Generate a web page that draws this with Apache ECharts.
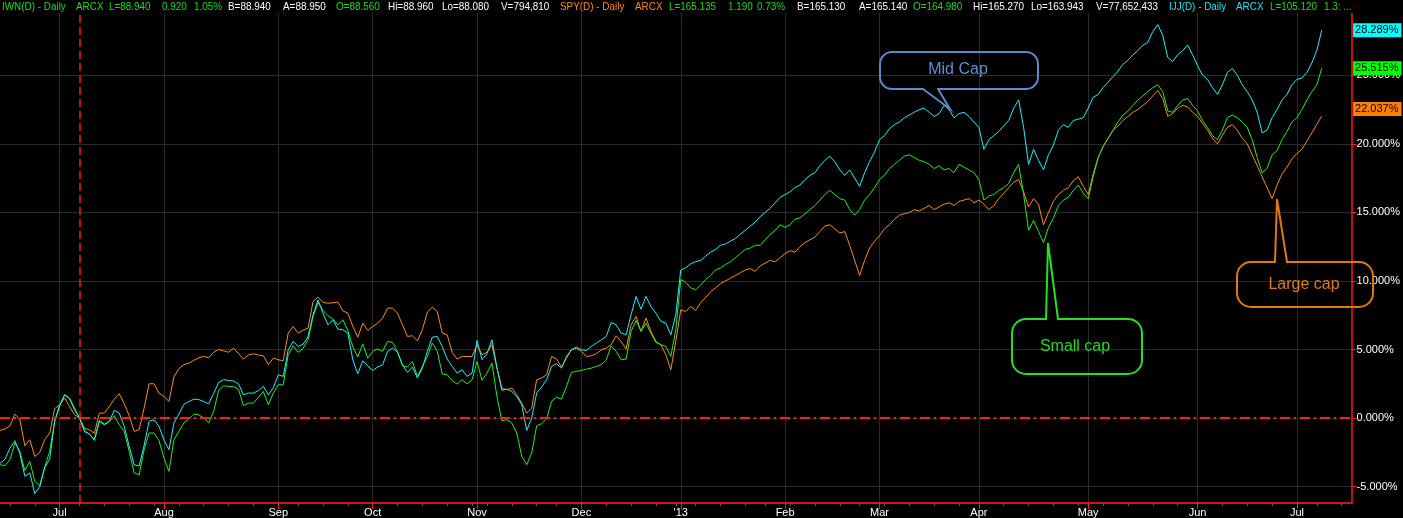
<!DOCTYPE html>
<html><head><meta charset="utf-8">
<script src="https://cdn.jsdelivr.net/npm/echarts@6/dist/echarts.min.js"></script>
<style>html,body{margin:0;padding:0;background:#000;}#c{width:1403px;height:518px;}</style>
</head><body><div id="c"></div>
<script>
// ---- data ----
const startDate = '2012-06-14';
const endDate = '2013-07-17';
const baseDate = '2012-07-09';
const holidays = ['2012-07-04','2012-09-03','2012-10-29','2012-10-30','2012-11-22','2012-12-25','2013-01-01','2013-01-21','2013-02-18','2013-03-29','2013-05-27','2013-07-04'];
const monthLabels = ['', "'13", 'Feb', 'Mar', 'Apr', 'May', 'Jun', 'Jul', 'Aug', 'Sep', 'Oct', 'Nov', 'Dec'];

const ijj = [
-3.3,-3.0,-2.2,-1.65,-2.6,-4.25,-4.0,-5.5,-5.0,-3.6,-3.0,-0.2,0.95,1.7,1.4,0.6,0.0,-1.0,-1.15,-1.63,-0.24,-0.5,-0.24,0.56,0.36,-0.6,-2.07,-3.4,-3.5,-2.0,-0.24,-0.12,-0.61,-1.6,-2.31,-0.36,0.3,1.0,1.2,1.38,1.35,1.2,1.04,1.8,2.6,2.8,2.75,2.7,2.5,1.7,1.82,
1.82,2.0,2.31,1.7,2.19,3.16,3.04,4.98,5.59,5.22,5.39,5.95,7.53,8.62,7.65,6.8,7.17,6.49,6.44,6.2,4.25,3.23,4.18,3.81,3.47,3.72,3.89,4.86,5.1,4.79,3.89,3.33,3.72,2.92,3.64,4.86,5.9,5.95,5.22,4.3,3.77,3.28,3.52,3.04,3.28,5.66,4.25,4.69,5.71,3.72,2.02,2.11,1.94,1.58,0.97,-0.9,0.0,1.82,2.26,2.79,3.77,3.96,3.64,4.49,4.98,5.17,4.98,4.93,5.22,5.47,5.71,5.95,6.97,6.8,6.2,6.07,7.53,8.87,7.94,8.87,8.14,7.65,7.05,6.92,6.07,7.53,
10.8,10.96,11.25,11.4,11.5,11.8,12.1,12.3,12.6,12.7,
12.9,13.1,13.4,13.7,14.0,14.3,14.7,15.0,15.3,15.7,
16.1,16.3,16.5,16.8,17.0,17.4,17.7,17.9,18.4,18.8,
19.1,18.7,18.1,17.7,18.1,17.5,16.9,17.9,18.7,19.4,
20.3,20.6,21.1,21.4,21.6,21.9,22.1,22.3,22.5,22.6,
22.3,22.0,22.2,22.8,22.5,21.9,22.2,22.3,22.0,21.6,
21.2,19.6,20.3,20.6,20.9,21.3,21.7,22.6,23.2,21.2,
18.5,19.6,18.8,18.1,19.2,19.9,21.0,21.4,21.2,21.7,
21.8,21.9,22.6,23.4,23.6,24.1,24.5,24.9,25.3,25.8,
26.1,26.5,26.8,27.2,27.4,28.2,28.7,27.9,26.3,26.0,
26.5,26.8,27.2,26.5,25.7,25.0,24.7,24.1,23.6,24.3,
25.2,25.5,25.0,24.3,23.8,23.2,22.3,20.8,21.0,21.9,
22.5,23.2,23.6,24.3,24.7,24.8,25.2,25.9,26.8,28.289
];

const iwn = [
-3.4,-3.48,-3.04,-1.82,-2.43,-3.82,-3.16,-4.62,-4.94,-3.57,-2.43,-0.24,0.85,1.7,1.46,0.73,0,-0.85,-1.22,-1.53,-0.17,-0.44,-0.24,0.17,-0.49,-0.97,-2.43,-4.0,-4.13,-2.31,-1.09,-1.09,-1.65,-2.92,-3.89,-1.58,-0.97,-0.36,-0.07,0.29,0.24,0,-0.36,0.48,2.01,2.35,2.31,2.31,2.1,0.9,1.09,
1.09,1.5,1.94,0.97,1.82,2.43,2.43,4.62,5.27,4.79,5.1,5.71,7.41,8.43,7.85,7.46,7.22,6.8,7.17,6.39,5.22,4.45,5.42,4.37,4.86,5.03,4.86,5.59,5.52,4.86,3.81,3.72,4.13,3.04,3.77,4.49,5.47,4.86,3.21,3.16,2.72,2.48,2.79,2.5,2.79,4.13,2.75,3.28,4.01,1.58,-0.19,-0.12,-0.36,-1.09,-2.79,-3.4,-2.55,-0.56,-0.41,-0.07,1.21,1.53,1.38,2.31,3.33,3.4,3.47,3.57,3.64,3.77,3.89,4.25,5.27,4.86,4.25,4.3,6.32,7.12,6.32,6.92,6.2,5.52,5.35,5.22,4.49,6.44,
10.1,9.9,9.5,9.35,9.7,10.1,10.4,10.8,10.95,11.2,
11.4,11.7,12.0,12.3,12.4,12.6,12.6,13.0,13.4,13.7,
14.1,13.9,14.1,14.5,14.6,14.9,15.2,15.5,15.9,16.3,
16.6,16.3,16.0,15.9,15.2,14.8,15.2,15.9,16.3,16.8,
17.4,17.7,18.2,18.5,18.8,19.1,19.2,19.0,18.8,18.7,
18.5,18.2,18.4,18.1,18.2,17.9,18.5,18.3,18.1,17.9,
17.4,15.9,16.2,16.3,16.6,16.8,17.1,17.9,18.5,16.3,
13.7,14.4,13.6,12.8,13.9,14.6,15.5,15.9,16.1,16.6,
17.0,16.4,16.0,17.6,19.0,19.8,20.4,21.0,21.6,22.1,
22.4,22.8,23.2,23.5,23.8,24.1,24.3,23.8,22.4,22.3,
22.8,23.2,23.3,22.8,22.4,21.7,21.2,20.6,20.3,21.0,
21.9,22.1,21.9,21.6,21.2,20.3,19.0,17.9,18.2,19.2,
19.5,20.3,20.9,21.6,21.9,22.5,23.2,23.8,24.3,25.515
];

const spy = [
-0.9,-0.8,-0.56,0.29,-0.12,-2.02,-1.58,-2.8,-2.5,-1.58,-1.1,0.68,0.97,1.46,0.85,0.24,0,-0.75,-0.85,-1.1,0.36,0.36,0.85,1.38,1.77,1.04,0.17,-0.97,-0.85,0.73,2.5,2.5,1.82,1.58,1.21,3.0,3.6,3.9,4.0,4.2,4.4,4.5,4.4,4.8,5.0,4.9,4.8,5.1,4.7,4.3,4.6,
4.69,4.6,4.54,3.89,4.37,4.25,4.18,6.2,6.68,6.2,6.4,6.56,8.5,8.82,8.43,8.38,8.4,8.45,7.82,7.65,6.68,5.9,6.92,6.39,6.68,6.92,7.29,8.02,8.02,7.65,6.8,5.95,6.0,5.64,6.44,7.73,8.09,7.77,6.2,6.07,4.79,4.3,4.49,4.49,4.49,5.35,4.62,4.79,5.35,3.64,2.19,2.07,2.19,1.7,1.09,0.36,0.73,2.79,2.92,3.16,4.49,4.3,3.72,4.37,4.98,5.1,4.86,4.49,4.54,4.69,4.98,5.1,5.35,6.0,5.59,5.03,6.8,7.41,6.32,7.29,6.32,5.59,5.35,4.62,3.52,5.59,
7.9,7.77,8.14,7.85,8.4,8.8,9.2,9.5,9.8,10.0,
10.2,10.4,10.6,10.8,10.9,10.7,11.1,11.3,11.5,11.4,
11.7,12.0,12.2,12.1,12.5,12.8,13.0,13.2,13.6,14.0,
14.1,13.8,13.5,13.6,12.6,11.5,10.4,11.5,12.4,12.9,
13.3,13.8,14.1,14.5,14.8,14.9,15.0,15.2,15.1,15.3,
15.5,15.2,15.4,15.6,15.7,15.5,15.8,15.9,16.0,15.7,
15.9,15.6,15.2,15.5,16.0,16.4,16.8,17.2,17.4,16.5,
15.4,16.0,15.6,14.1,15.0,15.8,16.3,16.6,16.8,17.3,
17.6,16.9,16.3,17.8,19.0,19.8,20.4,21.0,21.3,21.7,
22.0,22.3,22.5,22.8,23.1,23.5,23.9,23.3,22.0,22.2,
22.6,22.8,22.7,22.3,22.0,21.5,21.0,20.4,20.0,20.6,
21.2,21.4,21.0,20.4,20.0,19.2,18.4,17.6,16.8,16.0,
17.0,17.8,18.3,18.9,19.3,19.6,20.2,20.8,21.4,22.037
];

const headerItems = [
  ['IWN(D) - Daily','g',2],['ARCX','g',76],['L=88.940','g',109],['0.920','g',162],['1.05%','g',194],
  ['B=88.940','w',228],['A=88.950','w',283],['O=88.560','g',336],['Hi=88.960','w',388],['Lo=88.080','w',442],['V=794,810','w',501],
  ['SPY(D) - Daily','o',560],['ARCX','o',635],['L=165.135','g',669],['1.190','g',728],['0.73%','g',757],
  ['B=165.130','w',797],['A=165.140','w',859],['O=164.980','g',913],['Hi=165.270','w',973],['Lo=163.943','w',1031],['V=77,652,433','w',1096],
  ['IJJ(D) - Daily','c',1169],['ARCX','c',1236],['L=105.120','g',1270],['1.3: ...','g',1324]
];

// ---- helpers ----
function tradingDays(s, e, hol) {
  const out = [];
  let d = new Date(s + 'T00:00:00Z');
  const end = new Date(e + 'T00:00:00Z');
  while (d <= end) {
    const wd = d.getUTCDay();
    const iso = d.toISOString().slice(0, 10);
    if (wd !== 0 && wd !== 6 && hol.indexOf(iso) < 0) out.push(iso);
    d = new Date(d.getTime() + 86400000);
  }
  return out;
}
const categories = tradingDays(startDate, endDate, holidays);
const isMonth = categories.map((c, i) => i > 0 && c.slice(5, 7) !== categories[i - 1].slice(5, 7));
const isWeek = categories.map((c, i) => i > 0 && new Date(c + 'T00:00:00Z').getUTCDay() < new Date(categories[i - 1] + 'T00:00:00Z').getUTCDay());
const lastCat = categories[categories.length - 1];

const COL = { g: '#1fdc1f', w: '#ffffff', o: '#ff8a1c', c: '#19e6f0' };
const LINE = { iwn: '#22ee22', spy: '#ff8a1c', ijj: '#22f0f8' };
const RED = '#ff1a1a';
const GRIDC = '#2a2a2a';
const FONT = 'Arial, "Liberation Sans", sans-serif';

function endMark(values, color, dy) {
  const v = values[values.length - 1];
  return {
    silent: true, symbol: 'rect', symbolSize: [1, 1], itemStyle: { color: 'rgba(0,0,0,0)' },
    label: {
      show: true, position: 'right', distance: 1, offset: [0, dy],
      formatter: p => p.value.toFixed(3) + '%',
      backgroundColor: color, color: '#000', fontSize: 11, fontFamily: FONT, padding: [2, 3, 1, 2]
    },
    data: [{ coord: [lastCat, v], value: v }]
  };
}

function bubble(b) {
  const edgeY = b.side === 'top' ? b.y : b.y + b.h;
  const inner = b.side === 'top' ? edgeY + 1.5 : edgeY - 1.5;
  return [
    { type: 'rect', z: 50, shape: { x: b.x, y: b.y, width: b.w, height: b.h, r: b.r }, style: { fill: 'rgba(0,0,0,0)', stroke: b.color, lineWidth: 2 } },
    { type: 'polygon', z: 51, shape: { points: [[b.base[0] + 1, inner], [b.base[1] - 1, inner], [b.base[1] - 1, edgeY], b.tip, [b.base[0] + 1, edgeY]] }, style: { fill: '#000' } },
    { type: 'polyline', z: 52, shape: { points: [[b.base[0], edgeY], b.tip, [b.base[1], edgeY]] }, style: { stroke: b.color, lineWidth: 2, fill: null } },
    { type: 'text', z: 53, style: { text: b.text, x: b.tx, y: b.ty, fill: b.textColor, font: '16px ' + FONT, textAlign: 'center', textVerticalAlign: 'middle', align: 'center', verticalAlign: 'middle' } }
  ];
}

const graphics = [
  { type: 'rect', z: 60, shape: { x: 0, y: 0, width: 1356, height: 13 }, style: { fill: '#000' } }
].concat(headerItems.map(h => ({
  type: 'text', z: 61, x: h[2], y: 7, scaleX: 0.9,
  style: { text: h[0], x: 0, y: 0, fill: COL[h[1]], font: '11px ' + FONT, textVerticalAlign: 'middle', verticalAlign: 'middle' }
}))).concat(
  bubble({ x: 880, y: 52, w: 158, h: 37, r: 12, side: 'bottom', base: [923, 938], tip: [950, 109], color: '#5a88c8', textColor: '#5f8fd2', text: 'Mid Cap', tx: 958, ty: 70 }),
  bubble({ x: 1012, y: 319, w: 130, h: 55, r: 14, side: 'top', base: [1046, 1058], tip: [1048, 243], color: '#22e022', textColor: '#22d822', text: 'Small cap', tx: 1075, ty: 347 }),
  bubble({ x: 1237, y: 262, w: 136, h: 45, r: 14, side: 'top', base: [1275, 1287], tip: [1277, 199], color: '#e0780f', textColor: '#e07a1a', text: 'Large cap', tx: 1304, ty: 285 })
);

const chart = echarts.init(document.getElementById('c'), null, { renderer: 'canvas' });
chart.setOption({
  backgroundColor: '#000',
  animation: false,
  grid: { left: -2, right: 46, top: 0, bottom: 15, containLabel: false },
  xAxis: [
    {
      type: 'category', data: categories, boundaryGap: false,
      axisLine: { show: true, onZero: false, lineStyle: { color: RED, width: 1.5 } },
      axisTick: { show: true, interval: (i) => isWeek[i] && !isMonth[i], length: 3, lineStyle: { color: RED } },
      axisLabel: { show: false }, splitLine: { show: false }
    },
    {
      type: 'category', data: categories, boundaryGap: false, position: 'bottom',
      axisLine: { show: false, onZero: false },
      axisTick: { show: true, interval: (i) => isMonth[i], length: 6, lineStyle: { color: RED } },
      axisLabel: { show: true, interval: (i) => isMonth[i], color: '#fff', fontSize: 11, fontFamily: FONT, margin: 4,
        formatter: (v) => monthLabels[+v.slice(5, 7)] },
      splitLine: { show: true, interval: (i) => isMonth[i], lineStyle: { color: GRIDC, width: 1 } }
    }
  ],
  yAxis: {
    type: 'value', position: 'right', min: -6.195, max: 30.49, splitNumber: 7, scale: false,
    axisLine: { show: true, lineStyle: { color: RED, width: 1.5 } },
    axisTick: { show: true, length: 5, lineStyle: { color: RED } },
    axisLabel: { color: '#fff', fontSize: 11, fontFamily: FONT, margin: 5, showMinLabel: false, showMaxLabel: false,
      formatter: (v) => (v > 29 || v < -6) ? '' : v.toFixed(3) + '%' },
    splitLine: { show: true, lineStyle: { color: GRIDC, width: 1 } }
  },
  series: [
    {
      name: 'SPY', type: 'line', data: spy, xAxisIndex: 0, symbol: 'none', lineStyle: { color: LINE.spy, width: 1 }, itemStyle: { color: LINE.spy }, z: 2,
      markLine: {
        silent: true, symbol: ['none', 'none'], label: { show: false }, animation: false,
        data: [
          { yAxis: 0, lineStyle: { color: RED, width: 2, type: [10, 4, 2, 4] } },
          { xAxis: baseDate, lineStyle: { color: RED, width: 1.5, type: [8, 4] } }
        ]
      },
      markPoint: endMark(spy, '#ff8000', -7)
    },
    { name: 'IWN', type: 'line', data: iwn, xAxisIndex: 0, symbol: 'none', lineStyle: { color: LINE.iwn, width: 1 }, itemStyle: { color: LINE.iwn }, z: 3,
      markPoint: endMark(iwn, '#00ff00', 0) },
    { name: 'IJJ', type: 'line', data: ijj, xAxisIndex: 0, symbol: 'none', lineStyle: { color: LINE.ijj, width: 1 }, itemStyle: { color: LINE.ijj }, z: 4,
      markPoint: endMark(ijj, '#00ffff', 0) }
  ],
  graphic: graphics
});
</script></body></html>
